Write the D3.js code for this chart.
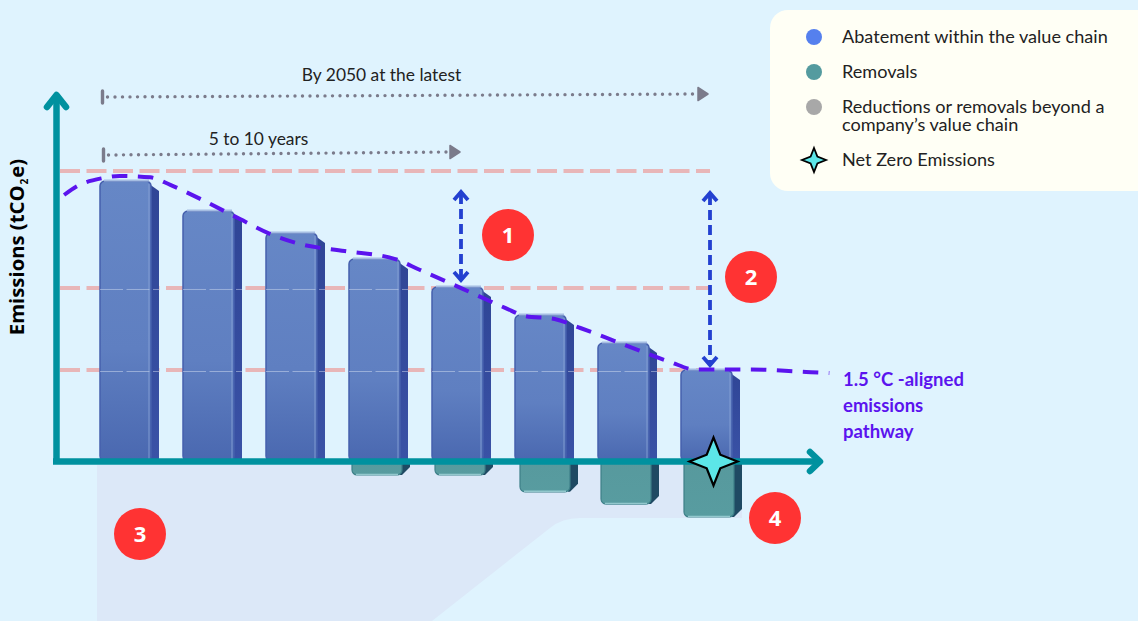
<!DOCTYPE html>
<html>
<head>
<meta charset="utf-8">
<script src="https://cdn.jsdelivr.net/npm/d3@7"></script>
<style>
  html, body { margin: 0; padding: 0; background: #dff3fe; overflow: hidden; }
  text { font-family: Lato, "Noto Sans", sans-serif; }
</style>
</head>
<body>
<div id="viz"></div>
<script>
const width = 1138;
const height = 621;

// Emissions are indexed, 100 = first bar
const periods = [0, 1, 2, 3, 4, 5, 6, 7];
const abatement = [100, 89.3, 81.4, 72.1, 62.1, 52.1, 42.1, 32.5];
const removals = [0, 0, 0, -5, -5, -11, -15.4, -20];
const referenceLevels = [103.6, 61.8, 32.5];

const pathwayPeriods = [-0.74, -0.58, -0.28, -0.07, 0.3, 0.54, 0.9, 1.38, 1.74, 2.1, 2.64, 3.25, 3.55, 4.07, 4.58, 4.81, 5.17, 5.48, 5.96, 6.56, 6.86, 7.5, 8.2, 8.48];
const pathwayValues = [95, 98.2, 101, 101.8, 101.3, 98.6, 93.6, 86.4, 81.1, 77.5, 75, 72.1, 68.2, 61.4, 54.6, 51.8, 50.7, 47.5, 42.1, 35.4, 32.7, 32.7, 31.8, 31.4];

const legendLabels = [
  ['Abatement within the value chain'],
  ['Removals'],
  ['Reductions or removals beyond a', 'company\u2019s value chain'],
  ['Net Zero Emissions']
];
const legendColors = ['#5580ee', '#549b9f', '#a8a8a8'];
const pathwayLabel = ['1.5 \u00b0C -aligned', 'emissions', 'pathway'];

const y = d3.scaleLinear().domain([0, 100]).range([461, 181]);
const xBand = d3.scaleBand().domain(periods).range([100, 732]).paddingInner(32 / 83).paddingOuter(0);
const xPos = d3.scaleLinear().domain([0, 7]).range([125.5, 706.5]);

const teal = '#00919f';
const violet = '#5b14ee';
const depth = 8; // side face of the bars

const svg = d3.select('#viz').append('svg')
  .attr('width', width)
  .attr('height', height)
  .style('display', 'block');

svg.append('rect').attr('width', width).attr('height', height).attr('fill', '#dff3fe');

// gradients for the bar faces
const defs = svg.append('defs');
function gradient(id, stops) {
  const g = defs.append('linearGradient').attr('id', id).attr('x1', 0).attr('x2', 0).attr('y1', 0).attr('y2', 1);
  stops.forEach(s => g.append('stop').attr('offset', s[0]).attr('stop-color', s[1]));
}
gradient('blueFace', [[0, '#6687c6'], [0.6, '#5f7fc1'], [1, '#4a68b0']]);
gradient('blueSide', [[0, '#2f4596'], [1, '#3a52a6']]);
gradient('tealFace', [[0, '#57999d'], [1, '#589ca0']]);

// shaded area under the axis
const shade = d3.path();
shade.moveTo(97, 465);
shade.lineTo(742, 465);
shade.lineTo(742, 518);
shade.lineTo(580, 518);
shade.quadraticCurveTo(562, 518, 550, 528);
shade.lineTo(432, 621);
shade.lineTo(97, 621);
shade.closePath();
svg.append('path').attr('d', shade.toString()).attr('fill', '#dce8f8');

// horizontal reference levels
svg.selectAll('.ref')
  .data(referenceLevels)
  .join('line')
    .attr('class', 'ref')
    .attr('x1', 60)
    .attr('x2', 710)
    .attr('y1', d => y(d))
    .attr('y2', d => y(d))
    .attr('stroke', '#e8b6b8')
    .attr('stroke-width', 4)
    .attr('stroke-dasharray', '20 6.5');

// removals, below the axis
const removalData = periods.map((p, i) => ({p, v: removals[i]})).filter(d => d.v < 0);
const removalGroup = svg.selectAll('.removal').data(removalData).join('g').attr('class', 'removal');
const removalLeft = d => xBand(d.p) + (d.p === 5 ? 5 : 3);
const removalW = 50;
removalGroup.append('path')
  .attr('d', d => {
    const l = removalLeft(d) + removalW;
    const t = y(0), b = y(d.v);
    return `M${l - 2},${t}H${l + depth}V${b - depth}L${l},${b}H${l - 2}Z`;
  })
  .attr('fill', '#1f4a63');
removalGroup.append('rect')
  .attr('x', removalLeft)
  .attr('y', y(0) - 6)
  .attr('width', removalW)
  .attr('height', d => y(d.v) - y(0) + 6)
  .attr('rx', 5)
  .attr('fill', 'url(#tealFace)')
  .attr('stroke', '#3c7f88')
  .attr('stroke-width', 1.2);
removalGroup.append('line')
  .attr('x1', d => removalLeft(d) + 4)
  .attr('x2', d => removalLeft(d) + removalW - 4)
  .attr('y1', d => y(d.v) - 0.5)
  .attr('y2', d => y(d.v) - 0.5)
  .attr('stroke', '#93c8cd')
  .attr('stroke-width', 1.5);

// abatement bars
const barData = periods.map((p, i) => ({p, v: abatement[i]}));
const bars = svg.selectAll('.bar').data(barData).join('g').attr('class', 'bar');
const barW = xBand.bandwidth();
bars.append('path')
  .attr('d', d => {
    const r = xBand(d.p) + barW;
    return `M${r - 6},${y(d.v)}L${r + depth},${y(d.v) + depth + 2}V${y(0)}H${r - 6}Z`;
  })
  .attr('fill', 'url(#blueSide)');
bars.append('rect')
  .attr('x', d => xBand(d.p))
  .attr('y', d => y(d.v))
  .attr('width', barW)
  .attr('height', d => y(0) - y(d.v))
  .attr('rx', 5)
  .attr('fill', 'url(#blueFace)')
  .attr('stroke', '#4660ad')
  .attr('stroke-width', 1.5);
// bevel highlights
bars.append('line')
  .attr('x1', d => xBand(d.p) + barW - 2)
  .attr('x2', d => xBand(d.p) + barW - 2)
  .attr('y1', d => y(d.v) + 3)
  .attr('y2', y(0))
  .attr('stroke', '#86a0d4')
  .attr('stroke-opacity', 0.75)
  .attr('stroke-width', 1.2);
bars.append('line')
  .attr('x1', d => xBand(d.p) + 4)
  .attr('x2', d => xBand(d.p) + barW - 2)
  .attr('y1', d => y(d.v) - 0.5)
  .attr('y2', d => y(d.v) - 0.5)
  .attr('stroke', '#a5bde2')
  .attr('stroke-width', 2);

// the reference dashes show faintly through the bars
bars.selectAll('.refOver')
  .data(d => referenceLevels.filter(l => l < d.v - 1).map(l => ({p: d.p, l})))
  .join('line')
    .attr('class', 'refOver')
    .attr('x1', d => xBand(d.p))
    .attr('x2', d => xBand(d.p) + barW + depth)
    .attr('y1', d => y(d.l) + 1.5)
    .attr('y2', d => y(d.l) + 1.5)
    .attr('stroke', '#dfe8f6')
    .attr('stroke-opacity', 0.45)
    .attr('stroke-dasharray', '23 3.5');

// axes
const axisLayer = svg.append('g')
  .attr('fill', 'none')
  .attr('stroke', teal)
  .attr('stroke-width', 6.5)
  .attr('stroke-linejoin', 'round');
axisLayer.append('path').attr('d', `M56.5,${y(0) + 0.5}V94`);
axisLayer.append('path').attr('d', `M47,107L56.5,95L66,107`).attr('stroke-linecap', 'round');
axisLayer.append('path').attr('d', `M53,${y(0) + 0.5}H819`);
axisLayer.append('path').attr('d', `M810,452L820,${y(0) + 0.5}L810,471`).attr('stroke-linecap', 'round');

// 1.5C pathway
const pathwayLine = d3.line()
  .x(d => xPos(d[0]))
  .y(d => y(d[1]))
  .curve(d3.curveMonotoneX);
svg.append('path')
  .attr('d', pathwayLine(pathwayPeriods.map((p, i) => [p, pathwayValues[i]])))
  .attr('fill', 'none')
  .attr('stroke', violet)
  .attr('stroke-width', 4)
  .attr('stroke-dasharray', '15.5 10.5');

// timeline arrows
const grey = '#7b7b8b';
function timeline(x0, y0, x1, y1) {
  svg.append('line')
    .attr('x1', x0 + 5).attr('y1', y0).attr('x2', x1 - 2).attr('y2', y1)
    .attr('stroke', grey).attr('stroke-width', 3.4)
    .attr('stroke-linecap', 'round').attr('stroke-dasharray', '0 7.5');
  svg.append('line')
    .attr('x1', x0).attr('y1', y0 - 6).attr('x2', x0).attr('y2', y0 + 6)
    .attr('stroke', grey).attr('stroke-width', 3.4).attr('stroke-linecap', 'round');
  svg.append('path')
    .attr('d', `M${x1 - 1},${y1 - 6.5}L${x1 + 9},${y1}L${x1 - 1},${y1 + 6.5}Z`)
    .attr('fill', grey).attr('stroke', grey).attr('stroke-width', 1.5).attr('stroke-linejoin', 'round');
}
timeline(102.5, 97, 699, 94);
timeline(103.5, 155, 451, 152);

svg.append('text').attr('x', 381.5).attr('y', 81).attr('text-anchor', 'middle')
  .attr('font-size', 17.4).attr('fill', '#222').text('By 2050 at the latest');
svg.append('text').attr('x', 258.5).attr('y', 145).attr('text-anchor', 'middle')
  .attr('font-size', 17.4).attr('fill', '#222').text('5 to 10 years');

// double headed gap arrows
function gapArrow(x, top, bottom) {
  svg.append('line')
    .attr('x1', x).attr('x2', x).attr('y1', top + 3).attr('y2', bottom - 3)
    .attr('stroke', '#2340d0').attr('stroke-width', 3.8).attr('stroke-dasharray', '10 5');
  svg.append('path')
    .attr('d', `M${x - 7},${top + 9}L${x},${top + 1}L${x + 7},${top + 9}M${x - 7},${bottom - 9}L${x},${bottom - 1}L${x + 7},${bottom - 9}`)
    .attr('fill', 'none').attr('stroke', '#2340d0').attr('stroke-width', 3.8);
}
gapArrow(461, 191, 281);
gapArrow(710, 192, 366);

// net zero star
function star(r) {
  const pts = d3.range(8).map(i => [i * Math.PI / 4, i % 2 ? r * 0.4 : r]);
  return d3.lineRadial().curve(d3.curveLinearClosed)(pts);
}
svg.append('path')
  .attr('d', star(24))
  .attr('transform', `translate(${xPos(7) + 7},${y(0) + 0.5})`)
  .attr('fill', '#5ce6e8').attr('stroke', '#000').attr('stroke-width', 2.2).attr('stroke-linejoin', 'miter');

// numbered badges
const badgeNumbers = ['1', '2', '3', '4'];
const badgeX = [508, 751, 140, 775];
const badgeY = [235, 277, 534, 518];
const badges = svg.selectAll('.badge').data(badgeNumbers).join('g')
  .attr('class', 'badge')
  .attr('transform', (d, i) => `translate(${badgeX[i]},${badgeY[i]})`);
badges.append('circle').attr('r', 26).attr('fill', '#ff3333');
badges.append('text')
  .attr('text-anchor', 'middle').attr('y', 8)
  .attr('font-size', 22).attr('font-weight', 700).attr('fill', '#fff')
  .style('font-family', '"Open Sans", sans-serif')
  .text(d => d);

// axis title with subscript
const yTitle = svg.append('text')
  .attr('transform', 'translate(18,247) rotate(-90)')
  .attr('y', 0).attr('dy', 6)
  .attr('text-anchor', 'middle')
  .attr('font-size', 20.3).attr('font-weight', 700).attr('fill', '#000')
  .style('font-family', '"Open Sans", sans-serif');
yTitle.append('tspan').text('Emissions (tCO');
yTitle.append('tspan').attr('font-size', 10).attr('dy', 4).attr('dx', 1).text('2');
yTitle.append('tspan').attr('dy', -4).attr('dx', 1).text('e)');

// pathway label
svg.selectAll('.pathLabel').data(pathwayLabel).join('text')
  .attr('class', 'pathLabel')
  .attr('x', 843)
  .attr('y', (d, i) => 386 + i * 26)
  .attr('font-size', 18.5).attr('font-weight', 700).attr('fill', violet)
  .text(d => d);

// legend
svg.append('rect')
  .attr('x', 770).attr('y', 10).attr('width', 400).attr('height', 181).attr('rx', 18)
  .attr('fill', '#fffff5');
const legendRowY = [43, 78, 113, 166];
const legend = svg.selectAll('.legendRow').data(legendLabels).join('g')
  .attr('class', 'legendRow')
  .attr('transform', (d, i) => `translate(0,${legendRowY[i]})`);
legend.filter((d, i) => i < 3).append('circle')
  .attr('cx', 814).attr('cy', -6).attr('r', 8)
  .attr('fill', (d, i) => legendColors[i]);
legend.selectAll('text').data(d => d).join('text')
  .attr('x', 842)
  .attr('y', (d, i) => i * 18)
  .attr('font-size', 18.1).attr('fill', '#222')
  .text(d => d);
legend.filter((d, i) => i === 3).append('path')
  .attr('d', star(12))
  .attr('transform', 'translate(814,-6)')
  .attr('fill', '#5ce6e8').attr('stroke', '#000').attr('stroke-width', 1.8);
</script>
</body>
</html>
